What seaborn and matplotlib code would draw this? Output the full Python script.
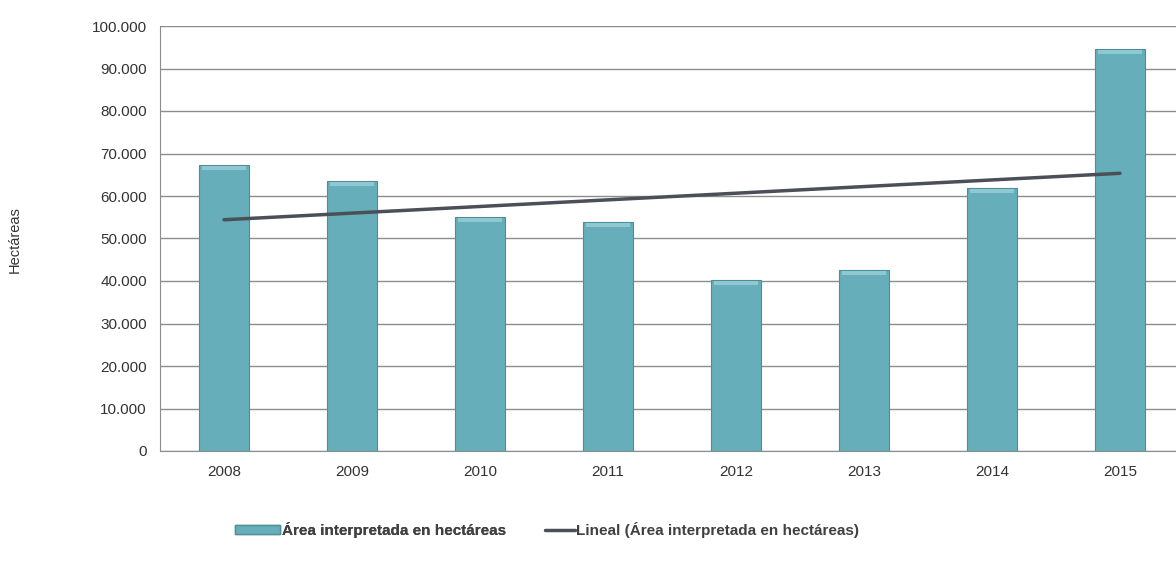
import numpy as np
import pandas as pd
import matplotlib
matplotlib.use("Agg")
import matplotlib.pyplot as plt
import seaborn as sns
from matplotlib.lines import Line2D
from matplotlib.patches import Patch
from matplotlib.ticker import FuncFormatter

# data
years = ["2008", "2009", "2010", "2011", "2012", "2013", "2014", "2015"]
area_ha = [67300, 63500, 55100, 53900, 40200, 42600, 61900, 94500]
y_ticks = list(range(0, 100001, 10000))

bar_label = "Área interpretada en hectáreas"
trend_label = "Lineal (Área interpretada en hectáreas)"

df = pd.DataFrame({"year": years, "area": area_ha})

sns.set_style("white")
plt.rcParams["font.family"] = ["Liberation Sans", "DejaVu Sans"]

fig = plt.figure(figsize=(11.76, 5.67), dpi=100)
ax = fig.add_axes([160 / 1176, 1 - 451 / 567, 1024 / 1176, 425 / 567])

bar_color = "#66AFBA"
sns.barplot(data=df, x="year", y="area", color=bar_color, width=0.39,
            edgecolor="#4E8E98", linewidth=0.8, saturation=1, ax=ax, zorder=3)

# light cap on top of each bar, as in the bevelled original
for p in ax.patches:
    ax.bar(p.get_x() + p.get_width() / 2, 1000, width=p.get_width() * 0.9,
           bottom=p.get_height() - 1200, color="#8FC8D0", zorder=4, linewidth=0)

# linear trend line
xs = np.arange(len(area_ha))
slope, intercept = np.polyfit(xs, area_ha, 1)
ax.plot(xs, slope * xs + intercept, color="#4A4F58", lw=2.5, zorder=5,
        solid_capstyle="round")

ax.set_xlim(-0.5, len(years) - 0.5)
ax.set_ylim(0, 100000)
ax.set_yticks(y_ticks)
ax.yaxis.set_major_formatter(FuncFormatter(lambda v, _: f"{int(v):,}".replace(",", ".")))
ax.grid(axis="y", color="#8C8C8C", lw=1, zorder=0)
ax.set_axisbelow(True)

for s in ["top", "right"]:
    ax.spines[s].set_visible(False)
ax.spines["left"].set_color("#8C8C8C")
ax.spines["bottom"].set_color("#8C8C8C")

ax.set_xticks(np.arange(len(years) + 1) - 0.5, minor=True)
ax.tick_params(axis="x", which="major", length=0, pad=10, labelsize=11, colors="#333333")
ax.tick_params(axis="x", which="minor", length=6, color="#8C8C8C", direction="out")
ax.tick_params(axis="y", length=6, color="#8C8C8C", direction="out", labelsize=11,
               labelcolor="#333333")
ax.set_xlabel("")
ax.set_ylabel("")

fig.text(15 / 1176, 1 - 240 / 567, "Hectáreas", rotation=90, va="center", ha="center",
         fontsize=10.5, color="#333333")

leg_y = 1 - 530 / 567
leg1 = fig.legend(handles=[Patch(facecolor=bar_color, edgecolor="#4E8E98", label=bar_label)],
                  loc="center left", bbox_to_anchor=(235 / 1176, leg_y), frameon=False,
                  borderpad=0, borderaxespad=0,
                  handlelength=2.95, handleheight=0.6, handletextpad=0.1,
                  prop={"weight": "bold", "size": 11}, labelcolor="#404040")
fig.legend(handles=[Line2D([0], [0], color="#4A4F58", lw=2.5, label=trend_label)],
           loc="center left", bbox_to_anchor=(545 / 1176, leg_y), frameon=False,
           borderpad=0, borderaxespad=0,
           handlelength=1.95, handletextpad=0.1,
           prop={"weight": "bold", "size": 11}, labelcolor="#404040")
fig.add_artist(leg1)

fig.savefig("out.png", dpi=100)
